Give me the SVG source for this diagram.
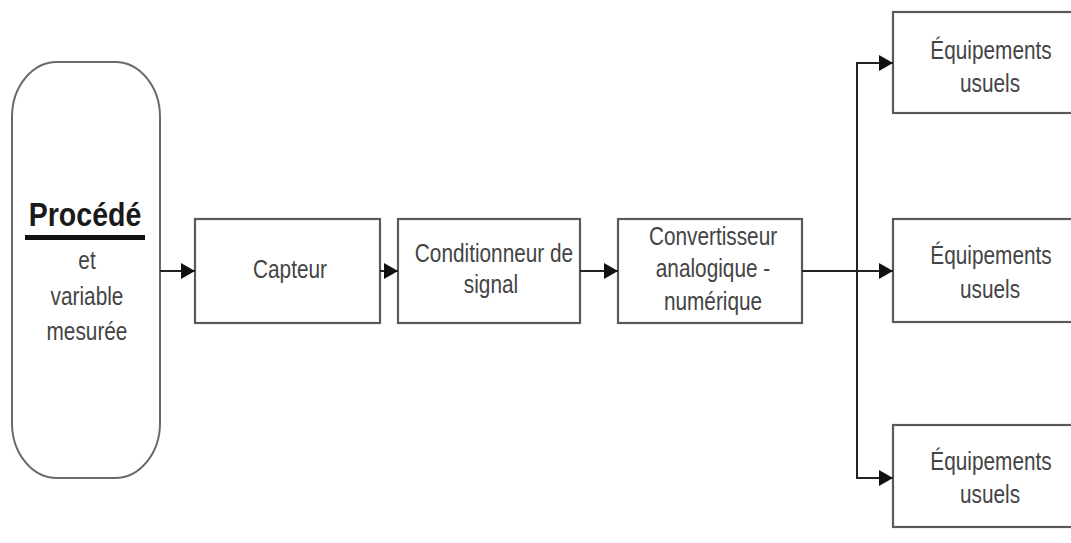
<svg xmlns="http://www.w3.org/2000/svg" width="1071" height="543" viewBox="0 0 1071 543">
  <style>
    .box { fill: #ffffff; stroke: #5a5a5a; stroke-width: 2.2; }
    .proc { fill: #ffffff; stroke: #6a6a6a; stroke-width: 2; }
    .lbl { font-family: "Liberation Sans", Arial, sans-serif; font-size: 26px; fill: #444444; text-anchor: middle; }
    .title { font-family: "Liberation Sans", Arial, sans-serif; font-size: 34px; font-weight: bold; fill: #1a1a1a; text-anchor: middle; }
    .wire { fill: none; stroke: #222222; stroke-width: 2; }
  </style>
  <defs>
    <marker id="arrow" markerUnits="userSpaceOnUse" markerWidth="15" markerHeight="16" refX="14" refY="8" orient="auto">
      <path d="M0,0 L14,8 L0,16 z" fill="#111111"/>
    </marker>
  </defs>
  <rect width="1071" height="543" fill="#ffffff"/>

  <!-- process block -->
  <g id="procede">
    <rect class="proc" x="12" y="62" width="148" height="416" rx="45" ry="55"/>
    <text class="title" transform="translate(85 226) scale(0.84 1)">Procédé</text>
    <rect x="25" y="235" width="120" height="5" fill="#111111"/>
    <text class="lbl" transform="translate(87 269) scale(0.8 1)">et</text>
    <text class="lbl" transform="translate(87 305) scale(0.8 1)">variable</text>
    <text class="lbl" transform="translate(87 340) scale(0.8 1)">mesurée</text>
  </g>

  <g id="capteur">
    <rect class="box" x="195" y="219" width="185" height="104"/>
    <text class="lbl" transform="translate(290 278) scale(0.8 1)">Capteur</text>
  </g>

  <g id="conditionneur">
    <rect class="box" x="398" y="219" width="182" height="104"/>
    <text class="lbl" transform="translate(494 262) scale(0.8 1)">Conditionneur de</text>
    <text class="lbl" transform="translate(491 293) scale(0.8 1)">signal</text>
  </g>

  <g id="convertisseur">
    <rect class="box" x="618" y="219" width="184" height="104"/>
    <text class="lbl" transform="translate(713 245) scale(0.8 1)">Convertisseur</text>
    <text class="lbl" transform="translate(713 277) scale(0.8 1)">analogique -</text>
    <text class="lbl" transform="translate(713 310) scale(0.8 1)">numérique</text>
  </g>

  <g id="equipements-1">
    <rect class="box" x="893" y="12" width="190" height="101"/>
    <text class="lbl" transform="translate(991 59) scale(0.8 1)">Équipements</text>
    <text class="lbl" transform="translate(990 92) scale(0.8 1)">usuels</text>
  </g>

  <g id="equipements-2">
    <rect class="box" x="893" y="219" width="190" height="103"/>
    <text class="lbl" transform="translate(991 264) scale(0.8 1)">Équipements</text>
    <text class="lbl" transform="translate(990 298) scale(0.8 1)">usuels</text>
  </g>

  <g id="equipements-3">
    <rect class="box" x="893" y="425" width="190" height="102"/>
    <text class="lbl" transform="translate(991 470) scale(0.8 1)">Équipements</text>
    <text class="lbl" transform="translate(990 503) scale(0.8 1)">usuels</text>
  </g>

  <!-- signal chain -->
  <g id="connectors">
    <line class="wire" x1="160" y1="271" x2="195" y2="271" marker-end="url(#arrow)"/>
    <line class="wire" x1="380" y1="271" x2="398" y2="271" marker-end="url(#arrow)"/>
    <line class="wire" x1="580" y1="271" x2="618" y2="271" marker-end="url(#arrow)"/>
    <line class="wire" x1="802" y1="271" x2="893" y2="271" marker-end="url(#arrow)"/>
    <line class="wire" x1="857" y1="62" x2="857" y2="479"/>
    <line class="wire" x1="856" y1="63" x2="893" y2="63" marker-end="url(#arrow)"/>
    <line class="wire" x1="856" y1="478" x2="893" y2="478" marker-end="url(#arrow)"/>
  </g>
</svg>
